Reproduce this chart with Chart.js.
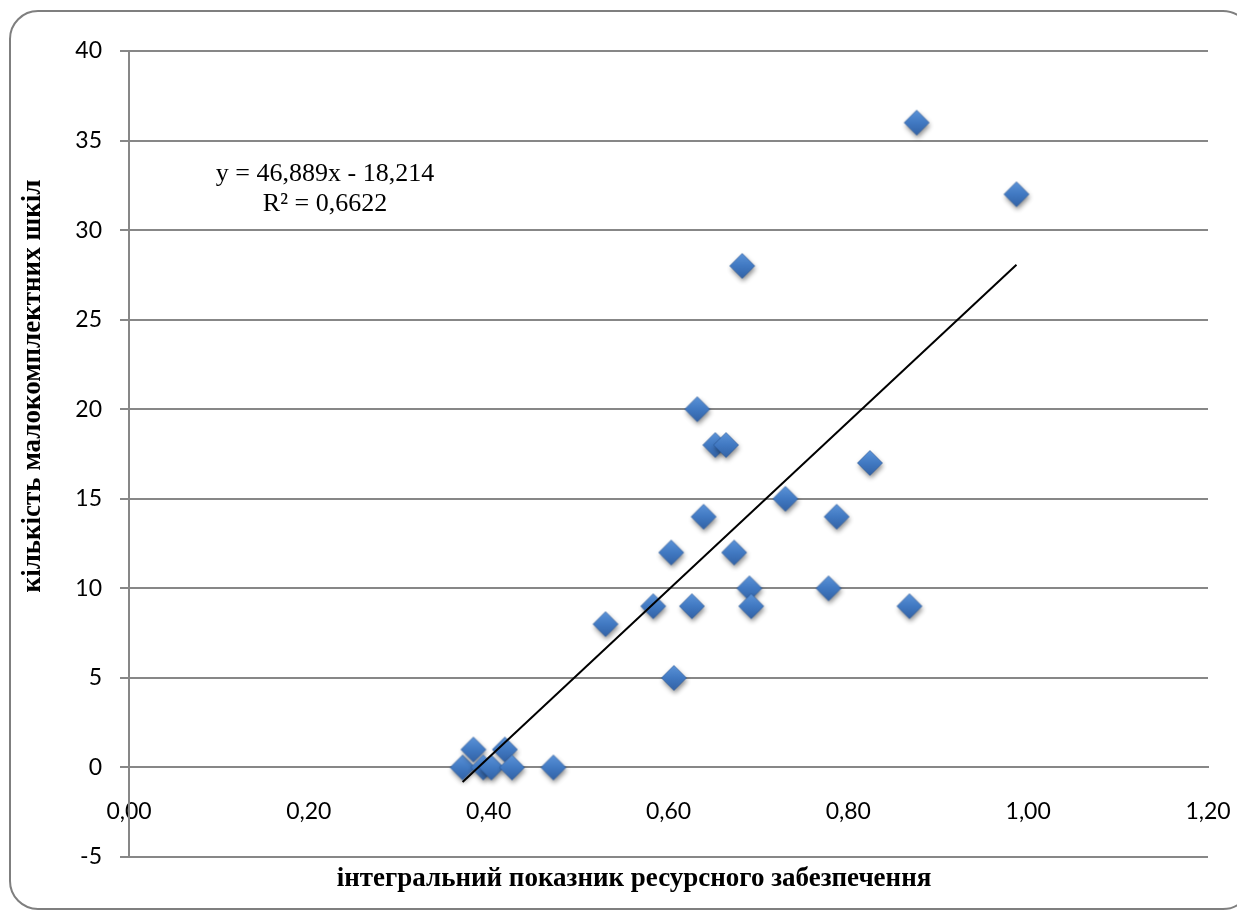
<!DOCTYPE html>
<html>
<head>
<meta charset="utf-8">
<script src="https://cdn.jsdelivr.net/npm/chart.js@4.4.1/dist/chart.umd.min.js"></script>
<style>
  html, body { margin: 0; padding: 0; background: #ffffff; }
  #wrap { width: 1237px; height: 910px; position: relative; }
</style>
</head>
<body>
<div id="wrap"><canvas id="chart"></canvas></div>
<script>
// Integral resource-provision index of each district (x)
const resourceIndex = [
  0.371, 0.383, 0.394, 0.403, 0.418, 0.426, 0.472, 0.530, 0.583, 0.603,
  0.606, 0.626, 0.632, 0.639, 0.652, 0.664, 0.673, 0.682, 0.690, 0.692,
  0.730, 0.778, 0.787, 0.824, 0.868, 0.876, 0.987
];
// Number of small (under-filled) schools (y)
const smallSchools = [
  0, 1, 0, 0, 1, 0, 0, 8, 9, 12,
  5, 9, 20, 14, 18, 18, 12, 28, 10, 9,
  15, 10, 14, 17, 9, 36, 32
];
// Linear trend fitted to the points
const trendSlope = 46.889;
const trendIntercept = -18.214;
const rSquared = 0.6622;

const xTickLabels = ['0,00', '0,20', '0,40', '0,60', '0,80', '1,00', '1,20'];
const yTickLabels = ['-5', '0', '5', '10', '15', '20', '25', '30', '35', '40'];

const xTitle = 'інтегральний показник ресурсного забезпечення';
const yTitle = 'кількість малокомплектних шкіл';

const uaNum = (v, d) => v.toFixed(d).replace('.', ',');
const eqLine1 = 'y = ' + uaNum(trendSlope, 3) + 'x ' + (trendIntercept < 0 ? '- ' : '+ ') + uaNum(Math.abs(trendIntercept), 3);
const eqLine2 = 'R² = ' + uaNum(rSquared, 4);

// Points as {x, y}
const points = resourceIndex.map((x, i) => ({ x: x, y: smallSchools[i] }));
// Trend line spans the observed x range
const xMin = Math.min(...resourceIndex);
const xMax = Math.max(...resourceIndex);
const trendPoints = [xMin, xMax].map(x => ({ x: x, y: trendSlope * x + trendIntercept }));

// Shaded diamond marker with a soft drop shadow
function makeDiamond() {
  const s = 46, c = s / 2, r = 12.5;
  const cv = document.createElement('canvas');
  cv.width = s; cv.height = s;
  const g = cv.getContext('2d');
  g.save();
  g.shadowColor = 'rgba(0,0,0,0.45)';
  g.shadowBlur = 5;
  g.shadowOffsetX = 1;
  g.shadowOffsetY = 3;
  g.beginPath();
  g.moveTo(c, c - r); g.lineTo(c + r, c); g.lineTo(c, c + r); g.lineTo(c - r, c); g.closePath();
  const grad = g.createLinearGradient(0, c - r, 0, c + r);
  grad.addColorStop(0, '#5b93d8');
  grad.addColorStop(0.5, '#4179c2');
  grad.addColorStop(1, '#3262a6');
  g.fillStyle = grad;
  g.fill();
  g.restore();
  g.beginPath();
  g.moveTo(c, c - r); g.lineTo(c + r, c); g.lineTo(c, c + r); g.lineTo(c - r, c); g.closePath();
  g.strokeStyle = 'rgba(40,85,150,0.6)';
  g.lineWidth = 1;
  g.stroke();
  return cv;
}
const diamond = makeDiamond();

const gridColor = '#878787';

const decor = {
  id: 'decor',
  beforeDraw(chart) {
    const ctx = chart.ctx;
    ctx.save();
    ctx.fillStyle = '#ffffff';
    ctx.fillRect(0, 0, chart.width, chart.height);
    ctx.beginPath();
    ctx.roundRect(10, 11, 1241, 898, 28);
    ctx.strokeStyle = '#7f7f7f';
    ctx.lineWidth = 2;
    ctx.stroke();
    ctx.restore();
  },
  afterDraw(chart) {
    const ctx = chart.ctx;
    ctx.save();
    ctx.fillStyle = '#000000';
    ctx.textAlign = 'center';
    ctx.textBaseline = 'middle';
    // axis titles
    ctx.font = 'bold 27px "Liberation Serif", "Times New Roman", serif';
    ctx.fillText(xTitle, 634, 879);
    ctx.translate(33, 386);
    ctx.rotate(-Math.PI / 2);
    ctx.fillText(yTitle, 0, 0);
    ctx.restore();
    // regression equation
    ctx.save();
    ctx.fillStyle = '#000000';
    ctx.textAlign = 'center';
    ctx.textBaseline = 'middle';
    ctx.font = '26px "Liberation Serif", "Times New Roman", serif';
    ctx.fillText(eqLine1, 325, 174);
    ctx.fillText(eqLine2, 325, 204);
    ctx.restore();
  }
};

new Chart(document.getElementById('chart'), {
  type: 'scatter',
  data: {
    datasets: [
      {
        label: 'trend',
        data: trendPoints,
        showLine: true,
        borderColor: '#000000',
        borderWidth: 2,
        pointRadius: 0,
        pointHoverRadius: 0,
        fill: false
      },
      {
        label: 'schools',
        data: points,
        pointStyle: diamond,
        pointRadius: 13,
        pointHoverRadius: 13,
        backgroundColor: '#4179c2',
        borderColor: '#4179c2'
      }
    ]
  },
  options: {
    responsive: true,
    maintainAspectRatio: false,
    animation: false,
    events: [],
    layout: { padding: { left: 0, right: 29, top: 51, bottom: 53 } },
    plugins: {
      legend: { display: false },
      tooltip: { enabled: false },
      title: { display: false }
    },
    scales: {
      x: {
        type: 'linear',
        position: { y: 0 },
        min: 0,
        max: 1.2,
        afterFit(scale) { scale.paddingLeft = 0; scale.paddingRight = 0; },
        grid: { display: false, drawTicks: false },
        border: { display: true, color: gridColor, width: 2 },
        ticks: {
          stepSize: 0.2,
          padding: 30,
          maxRotation: 0,
          color: '#000000',
          font: { family: 'Lato', size: 23 },
          callback: (v, i) => xTickLabels[i] !== undefined ? xTickLabels[i] : uaNum(v, 2)
        }
      },
      y: {
        type: 'linear',
        position: 'left',
        min: -5,
        max: 40,
        afterFit(scale) { scale.width = 129; scale.paddingTop = 0; scale.paddingBottom = 0; },
        grid: { color: gridColor, lineWidth: 2, drawTicks: true, tickLength: 9 },
        border: { display: true, color: gridColor, width: 2 },
        ticks: {
          stepSize: 5,
          padding: 18,
          color: '#000000',
          font: { family: 'Lato', size: 23 },
          callback: (v, i) => yTickLabels[i] !== undefined ? yTickLabels[i] : String(v)
        }
      }
    }
  },
  plugins: [decor]
});
</script>
</body>
</html>
